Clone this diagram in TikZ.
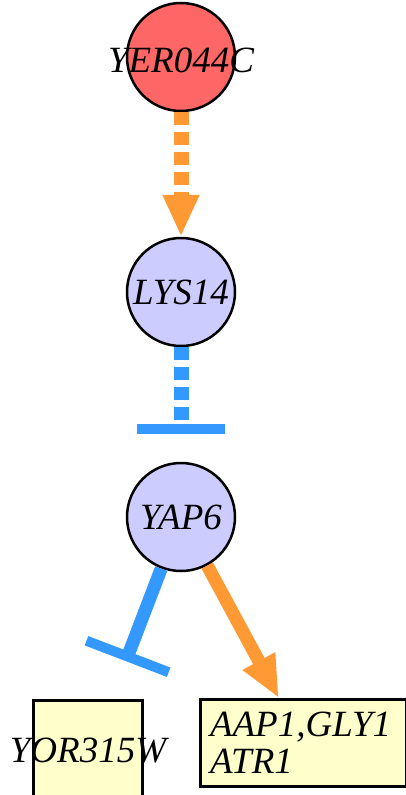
\documentclass[tikz,border=0pt]{standalone}
\usepackage{fontspec}
\setmainfont{Liberation Serif}
\usetikzlibrary{arrows.meta}
\definecolor{cred}{HTML}{FF6666}
\definecolor{clav}{HTML}{CCCCFF}
\definecolor{cyel}{HTML}{FFFFCC}
\definecolor{corange}{HTML}{FF9933}
\definecolor{cblue}{HTML}{3399FF}
\tikzset{
  lbl/.style={font=\fontsize{37}{37}\selectfont\itshape},
  gene/.style={circle, draw=black, line width=2.5pt, minimum size=108pt, inner sep=0pt},
  genebox/.style={rectangle, draw=black, line width=3pt, fill=cyel, inner sep=0pt, lbl},
  activ/.style={draw=corange, line width=13pt, -{Triangle[length=42pt,width=34pt]}},
  inhib/.style={draw=cblue, line width=13pt},
  dashes/.style={dash pattern=on 13pt off 7pt},
}
\begin{document}
\begin{tikzpicture}[x=1pt,y=-1pt]
\useasboundingbox (0,0) rectangle (405,795);
\node[gene, fill=cred] (yer) at (181,57) {};
\node[gene, fill=clav] (lys) at (181,292) {};
\node[gene, fill=clav] (yap) at (181,517) {};
\node[genebox, minimum width=109pt, minimum height=120pt] (yor) at (88,760) {};
\node[genebox, minimum width=206pt, minimum height=87pt, text width=186pt, align=left, inner xsep=10pt] (aap) at (303,743) {AAP1,GLY1\\ATR1};
% connectors
\draw[activ, line width=15pt, dashes] (yer) -- (lys);
\draw[inhib, line width=15pt, dashes, -{Bar[width=88pt,line width=10pt]}, shorten >=28pt] (lys) -- (yap);
\draw[inhib, -{Bar[width=88pt,line width=10pt]}, shorten >=40pt] (yap) -- (yor);
\draw[activ] (yap) -- (aap);
% labels on top
\node[lbl] at ([yshift=-3pt]yer.center) {YER044C};
\node[lbl] at (lys) {LYS14};
\node[lbl] at (yap) {YAP6};
\node[lbl] at ([yshift=9pt]yor.center) {YOR315W};
\end{tikzpicture}
\end{document}
